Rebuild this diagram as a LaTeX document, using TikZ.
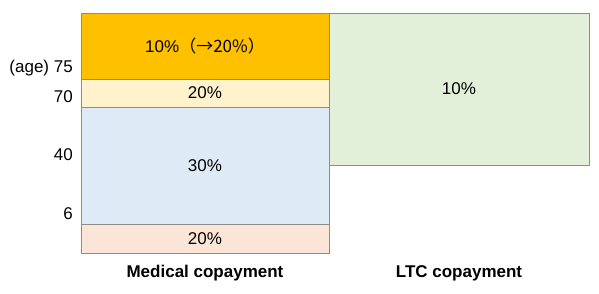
\documentclass[tikz,border=0pt]{standalone}
\usepackage{fontspec}
\setmainfont{Liberation Sans}
\newfontfamily\cjk{Noto Sans CJK JP}
\usetikzlibrary{positioning}

\definecolor{bandorange}{HTML}{FFC000}
\definecolor{bandcream}{HTML}{FFF2CC}
\definecolor{bandblue}{HTML}{DEEBF7}
\definecolor{bandpink}{HTML}{FBE5D6}
\definecolor{bandgreen}{HTML}{E2F0D9}
\definecolor{edgegray}{HTML}{8C8C8C}

\tikzset{
    band/.style={draw=edgegray, line width=0.7pt, inner sep=0pt, outer sep=0pt,
        minimum width=248pt, font=\fontsize{17}{20}\selectfont},
    agelabel/.style={anchor=east, inner sep=0pt, font=\fontsize{17}{20}\selectfont},
    axislabel/.style={inner sep=0pt, font=\bfseries\fontsize{17}{20}\selectfont}
}

\begin{document}
\begin{tikzpicture}[x=1pt, y=-1pt]
    \useasboundingbox (0,0) rectangle (599,293);

    % Draw medical bands
    \node[band, fill=bandorange, minimum height=66pt] (top) at (205,46) {10\%\cjk{（→}20\%\cjk{）}};
    \node[band, fill=bandcream, minimum height=28pt] (old) at (205,93) {20\%};
    \node[band, fill=bandblue, minimum height=117pt] (mid) at (205,165.5) {30\%};
    \node[band, fill=bandpink, minimum height=29pt] (kid) at (205,238.5) {20\%};

    % Draw LTC box
    \node[band, fill=bandgreen, minimum width=260pt, minimum height=152pt] (ltc) at (459,89) {10\%};

    % Age labels
    \node[agelabel] (a75) at (73,68) {(age) 75};
    \node[agelabel] (a70) at (73,97) {70};
    \node[agelabel] (a40) at (73,155) {40};
    \node[agelabel] (a6) at (73,214) {6};

    % Column labels
    \node[axislabel] (med) at (205,273) {Medical copayment};
    \node[axislabel] (ltclabel) at (ltc.center |- med) {LTC copayment};
\end{tikzpicture}
\end{document}
